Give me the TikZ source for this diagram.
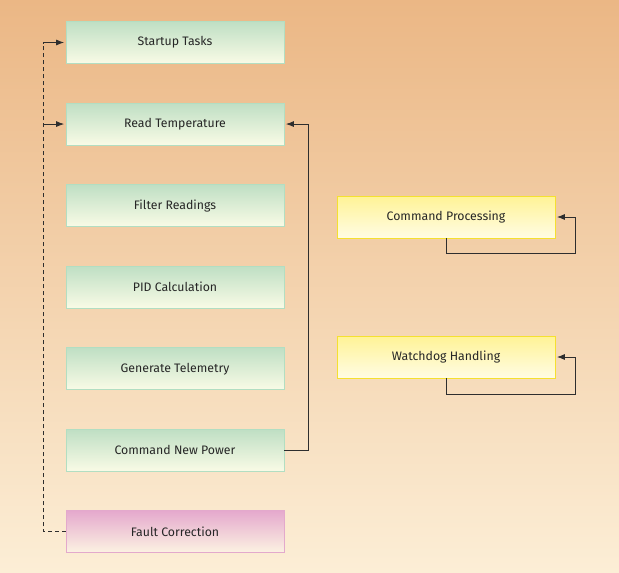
\documentclass[tikz,border=0pt]{standalone}
\usepackage{fontspec}
\setmainfont{Fira Sans}
\usetikzlibrary{arrows.meta,positioning}

\definecolor{bgtop}{HTML}{EBB785}
\definecolor{bgbot}{HTML}{FCEED6}
\definecolor{taskedge}{HTML}{B2DEC2}
\definecolor{tasktop}{HTML}{BFDFC4}
\definecolor{taskbot}{HTML}{F9FBE6}
\definecolor{isredge}{HTML}{F5E030}
\definecolor{isrtop}{HTML}{FFF396}
\definecolor{isrbot}{HTML}{FFFCE4}
\definecolor{faultedge}{HTML}{E3A9CC}
\definecolor{faulttop}{HTML}{E5A9CD}
\definecolor{faultbot}{HTML}{FCF3E2}
\definecolor{linecol}{HTML}{2E2E2E}

\begin{document}
\begin{tikzpicture}[x=1pt,y=-1pt,
    node distance=38.75pt,
    box/.style={minimum width=218pt, minimum height=42pt, inner sep=0pt,
      line width=0.8pt, text=black!85, font=\fontsize{12.3}{14}\selectfont},
    task/.style={box, draw=taskedge, top color=tasktop, bottom color=taskbot},
    isr/.style={box, draw=isredge, top color=isrtop, bottom color=isrbot},
    fault/.style={box, draw=faultedge, top color=faulttop, bottom color=faultbot},
    flow/.style={draw=linecol, line width=0.8pt},
    tip/.style={flow, -{Latex[length=8pt,width=6pt]}, shorten >=1.5pt}]

  \fill[top color=bgtop, bottom color=bgbot] (0,0) rectangle (619,573);
  \useasboundingbox (0,0) rectangle (619,573);

  \node[task] (startup) at (175,42.5) {Startup Tasks};
  \node[task, below=of startup] (readtemp) {Read Temperature};
  \node[task, below=of readtemp] (filter) {Filter Readings};
  \node[task, below=of filter] (pid) {PID Calculation};
  \node[task, below=of pid] (telemetry) {Generate Telemetry};
  \node[task, below=of telemetry] (cmdpower) {Command New Power};
  \node[fault, below=of cmdpower] (faultfix) {Fault Correction};

  \node[isr] (cmdproc) at (446,217) {Command Processing};
  \node[isr] (watchdog) at (446,357) {Watchdog Handling};

  \coordinate (leftbus) at (43,0);
  \draw[flow, dash pattern=on 4pt off 3pt] (faultfix.west) -- (faultfix.west -| leftbus)
    -- (startup.west -| leftbus);
  \draw[tip] (startup.west -| leftbus) -- (startup.west);
  \draw[tip] (readtemp.west -| leftbus) -- (readtemp.west);

  \draw[tip] (cmdpower.east) -- ++(24,0) |- (readtemp.east);

  \draw[tip] (cmdproc.south) |- ([xshift=20pt,yshift=-15pt]cmdproc.south east)
    |- (cmdproc.east);
  \draw[tip] (watchdog.south) |- ([xshift=20pt,yshift=-16pt]watchdog.south east)
    |- (watchdog.east);
\end{tikzpicture}
\end{document}
